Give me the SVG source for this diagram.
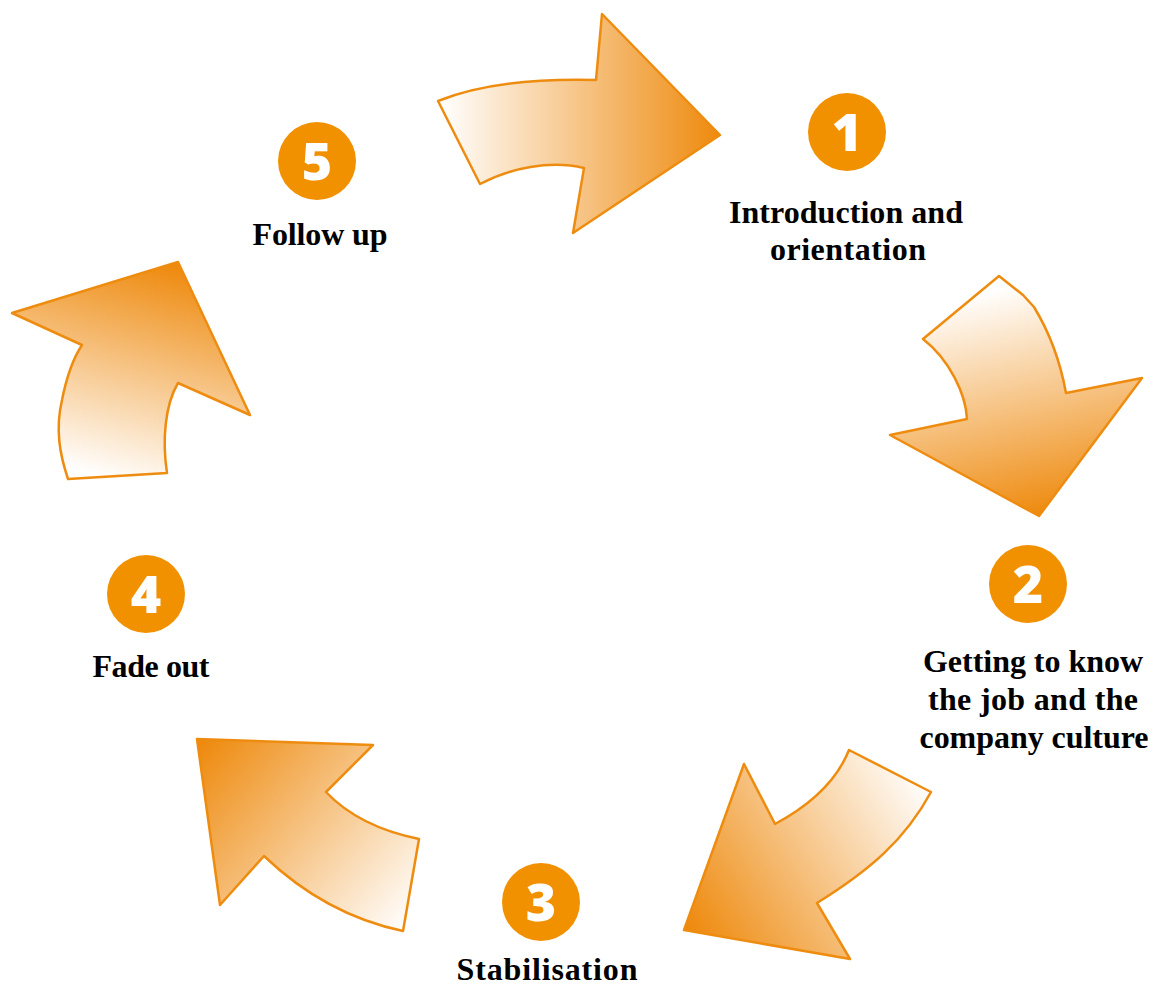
<svg xmlns="http://www.w3.org/2000/svg" width="1155" height="987" viewBox="0 0 1155 987">
<defs>
<linearGradient id="g1" x1="440" y1="0" x2="720" y2="0" gradientUnits="userSpaceOnUse"><stop offset="0" stop-color="#fff"/><stop offset="1" stop-color="#ee8a0e"/></linearGradient>
<linearGradient id="g2" x1="990" y1="290" x2="1040" y2="515" gradientUnits="userSpaceOnUse"><stop offset="0" stop-color="#fff"/><stop offset="1" stop-color="#ee8a0e"/></linearGradient>
<linearGradient id="g3" x1="925" y1="780" x2="690" y2="930" gradientUnits="userSpaceOnUse"><stop offset="0" stop-color="#fff"/><stop offset="1" stop-color="#ee8a0e"/></linearGradient>
<linearGradient id="g4" x1="410" y1="925" x2="200" y2="745" gradientUnits="userSpaceOnUse"><stop offset="0" stop-color="#fff"/><stop offset="1" stop-color="#ee8a0e"/></linearGradient>
<linearGradient id="g5" x1="110" y1="480" x2="170" y2="265" gradientUnits="userSpaceOnUse"><stop offset="0" stop-color="#fff"/><stop offset="1" stop-color="#ee8a0e"/></linearGradient>
</defs>
<style>
.arr{stroke:#ee8c10;stroke-width:2.5;stroke-linejoin:round}
.c{fill:#f29100}
.n{fill:#fff;font-family:"Open Sans","DejaVu Sans",sans-serif;font-weight:800;font-size:52px;text-anchor:middle}
.t{fill:#000;font-family:"Liberation Serif","Times New Roman",serif;font-weight:bold;font-size:32px;text-anchor:middle}
</style>
<rect width="1155" height="987" fill="#fff"/>
<g id="connectors">
<path class="arr" fill="url(#g1)" d="M438,101 C470,88 520,78 596,80 L602,14 L720,135 L573,233 L584,168 C550,160 510,168 480,184 Z"/>
<path class="arr" fill="url(#g2)" d="M999,276 L1023,295 L1034,307 C1048,330 1060,360 1066,393 L1142,378 L1039,516 L890,435 L967,419 C966,395 950,360 923,339 Z"/>
<path class="arr" fill="url(#g3)" d="M849,750 L931,792 C905,840 870,870 817,903 L850,959 L684,930 L744,764 L775,824 C805,808 835,785 849,750 Z"/>
<path class="arr" fill="url(#g4)" d="M197,739 L373,745 L326,792 C345,812 375,830 419,839 L403,931 C360,922 310,900 264,856 L220,905 Z"/>
<path class="arr" fill="url(#g5)" d="M178,262 L250,415 L178,383 C165,405 162,440 167,473 L68,479 C60,455 55,430 62,400 C66,380 72,360 82,345 L12,313 Z"/>
</g>
<g id="node1">
<circle class="c" cx="847" cy="132" r="39"/>
<text class="n" x="847" y="151">1</text>
<text class="t" x="846" y="223" textLength="234" lengthAdjust="spacing">Introduction and</text>
<text class="t" x="848" y="260" textLength="156" lengthAdjust="spacing">orientation</text>
</g>
<g id="node2">
<circle class="c" cx="1028" cy="584" r="39"/>
<text class="n" x="1028" y="603">2</text>
<text class="t" x="1033" y="672" textLength="220" lengthAdjust="spacing">Getting to know</text>
<text class="t" x="1033" y="710" textLength="210" lengthAdjust="spacing">the job and the</text>
<text class="t" x="1034" y="748" textLength="229" lengthAdjust="spacing">company culture</text>
</g>
<g id="node3">
<circle class="c" cx="541" cy="902" r="39"/>
<text class="n" x="541" y="921">3</text>
<text class="t" x="547" y="980" textLength="181" lengthAdjust="spacing">Stabilisation</text>
</g>
<g id="node4">
<circle class="c" cx="146" cy="594" r="39"/>
<text class="n" x="146" y="613">4</text>
<text class="t" x="151" y="677" textLength="117" lengthAdjust="spacing">Fade out</text>
</g>
<g id="node5">
<circle class="c" cx="317" cy="161" r="39"/>
<text class="n" x="317" y="180">5</text>
<text class="t" x="320" y="245" textLength="135" lengthAdjust="spacing">Follow up</text>
</g>
</svg>
